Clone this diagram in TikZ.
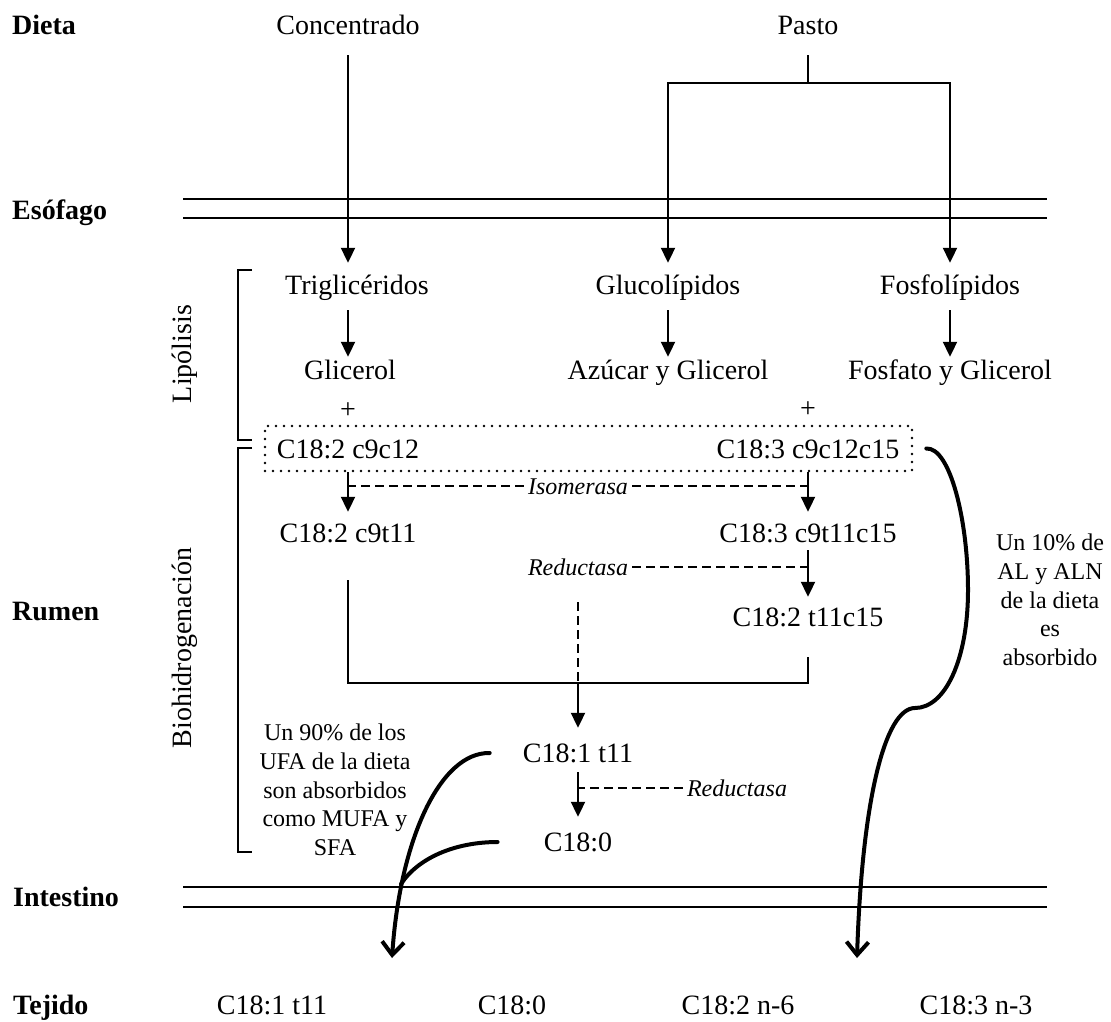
\documentclass[tikz,border=0pt]{standalone}
\usepackage{fontspec}
\setmainfont{Liberation Serif}
\usetikzlibrary{arrows.meta}
\begin{document}
\begin{tikzpicture}[x=1pt,y=-1pt,
  txt/.style={inner sep=0pt, text height=18.5pt, text depth=0pt, font=\fontsize{28}{32}\selectfont},
  hdr/.style={inner sep=0pt, text height=18.5pt, text depth=0pt, anchor=west, font=\fontsize{28}{32}\selectfont\bfseries},
  enz/.style={inner ysep=0pt, inner xsep=4pt, text height=16pt, text depth=0pt, font=\fontsize{24}{28}\selectfont\itshape},
  note/.style={inner sep=0pt, align=center, font=\fontsize{24}{28.75}\selectfont},
  ln/.style={line width=2pt},
  arr/.style={line width=2pt, -{Triangle[width=14pt,length=15pt]}},
  dsh/.style={line width=2.2pt, dash pattern=on 9pt off 5pt},
  crv/.style={line width=4pt, line cap=round},
  crvarr/.style={crv, -{Straight Barb[width=22pt,length=13pt]}},
]
\useasboundingbox (0,0) rectangle (1111,1021);

% row labels
\node[hdr] (dieta) at (12,25) {Dieta};
\node[hdr] (esof) at (12,210) {Esófago};
\node[hdr] (rumen) at (12,611) {Rumen};
\node[hdr] (intes) at (13,897) {Intestino};
\node[hdr] (tejido) at (13,1005) {Tejido};

% diet
\node[txt] (conc) at (348,25) {Concentrado};
\node[txt] (pasto) at (808,25) {Pasto};

% tubes
\draw[ln] (183,199) -- (1047,199);
\draw[ln] (183,218) -- (1047,218);
\draw[ln] (183,887) -- (1047,887);
\draw[ln] (183,907) -- (1047,907);

% brackets
\draw[ln] (252,270) -- (238,270) -- (238,440) -- (252,440);
\draw[ln] (252,448) -- (238,448) -- (238,852) -- (252,852);
\node[txt, rotate=90] (lip) at (182,354) {Lipólisis};
\node[txt, rotate=90] (bio) at (182,648) {Biohidrogenación};

% lipolysis
\node[txt] (trig) at (357,285) {Triglicéridos};
\node[txt] (gluco) at (668,285) {Glucolípidos};
\node[txt] (fosfo) at (950,285) {Fosfolípidos};
\node[txt] (glic) at (350,370) {Glicerol};
\node[txt] (azu) at (668,370) {Azúcar y Glicerol};
\node[txt] (fosf) at (950,370) {Fosfato y Glicerol};
\node[txt] (plusA) at (348,409) {+};
\node[txt] (plusB) at (808,408) {+};

% dotted box
\node[draw, line width=2.6pt, dash pattern=on 0pt off 8pt, line cap=round,
      minimum width=647pt, minimum height=45pt, inner sep=0pt] (box) at (588.5,448.5) {};
\node[txt] (la) at (348,449) {C18:2 c9c12};
\node[txt] (ln3) at (808,449) {C18:3 c9c12c15};

% biohydrogenation
\node[txt] (cla) at (348,533) {C18:2 c9t11};
\node[txt] (cln) at (808,533) {C18:3 c9t11c15};
\node[txt] (tc) at (808,617) {C18:2 t11c15};
\node[txt] (va) at (578,753) {C18:1 t11};
\node[txt] (sa) at (578,842) {C18:0};
\node[enz] (iso) at (578,486) {Isomerasa};
\node[enz] (redA) at (578,567) {Reductasa};
\node[enz] (redB) at (737,788) {Reductasa};

\node[note] (n90) at (335,790) {Un 90\% de los\\UFA de la dieta\\son absorbidos\\como MUFA y\\SFA};
\node[note] (n10) at (1050,600) {Un 10\% de\\AL y ALN\\de la dieta\\es\\absorbido};

% tissue
\node[txt] (t1) at (272,1005) {C18:1 t11};
\node[txt] (t2) at (512,1005) {C18:0};
\node[txt] (t3) at (738,1005) {C18:2 n-6};
\node[txt] (t4) at (976,1005) {C18:3 n-3};

% connectors
\coordinate (split) at (808,83);
\draw[arr, shorten <=20.75pt, shorten >=12.75pt] (conc) -- (trig.north -| conc);
\draw[ln, shorten <=20.75pt] (pasto) -- (split);
\draw[arr, shorten >=12.75pt] (split) -| (gluco.north);
\draw[arr, shorten >=12.75pt] (split) -| (fosfo.north);

\draw[arr, shorten <=15.75pt, shorten >=3.75pt] (trig.south -| conc) -- (glic.north -| conc);
\draw[arr, shorten <=15.75pt, shorten >=3.75pt] (gluco) -- (azu);
\draw[arr, shorten <=15.75pt, shorten >=3.75pt] (fosfo) -- (fosf);

\draw[arr, shorten >=11.75pt] (box.south -| la) -- (cla.north);
\draw[arr, shorten >=11.75pt] (box.south -| ln3) -- (cln.north);
\draw[dsh] (iso.west) -- (iso.west -| la);
\draw[dsh] (iso.east) -- (iso.east -| ln3);

\draw[arr, shorten <=7.75pt, shorten >=10.75pt] (cln) -- (tc);
\draw[dsh] (redA.east) -- (redA.east -| cln);

\coordinate (merge) at (578,683);
\draw[ln] ([yshift=-37.75pt]cla.south) |- (merge) -| ([yshift=-30.75pt]tc.south);
\draw[dsh] ([yshift=-27pt]redA.south) -- (merge);
\draw[arr, shorten >=15.75pt] (merge) -- (va.north);
\draw[arr, shorten <=9.75pt, shorten >=15.75pt] (va) -- (sa);
\draw[dsh] (redB.west) -- (redB.west -| va);

% absorption curves
\coordinate (endL) at (392,958);
\coordinate (joinL) at (401,884);
\coordinate (endR) at (857,958);
\draw[crvarr] ([xshift=-33pt]va.west) .. controls (440,752) and (400,840) .. (endL);
\draw[crv] ([xshift=-46pt]sa.west) .. controls (455,842) and (418,858) .. (joinL);
\draw[crvarr] ([xshift=13pt]box.east) .. controls (950,447) and (968,520) .. (968,590)
  .. controls (968,660) and (945,708) .. (915,708)
  .. controls (885,708) and (862,800) .. (endR);
\end{tikzpicture}
\end{document}
